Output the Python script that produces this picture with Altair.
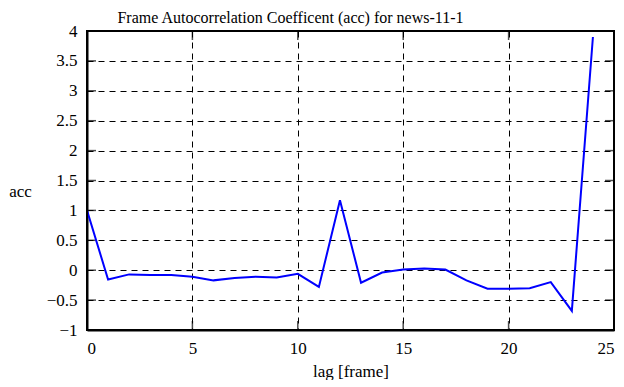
import altair as alt
import pandas as pd

lags = list(range(25))
acc = [1.0, -0.155, -0.07, -0.08, -0.08, -0.11, -0.17, -0.13, -0.11, -0.12,
       -0.06, -0.28, 1.17, -0.21, -0.04, 0.01, 0.03, 0.01, -0.17, -0.31,
       -0.31, -0.30, -0.20, -0.68, 3.9]
x_ticks = [0, 5, 10, 15, 20, 25]
y_ticks = [-1, -0.5, 0, 0.5, 1, 1.5, 2, 2.5, 3, 3.5, 4]

df = pd.DataFrame({"lag": lags, "acc": acc})
xt = pd.DataFrame({"v": x_ticks})
yt = pd.DataFrame({"v": y_ticks})
ft = pd.DataFrame({"k": [0]})

FONT = "Liberation Serif"
W, H = 527, 299
xscale = alt.Scale(domain=[0, 25], nice=False, zero=False)
yscale = alt.Scale(domain=[-1, 4], nice=False, zero=False)

xaxis = alt.Axis(values=x_ticks, title="lag [frame]",
                 labelPadding=10, titlePadding=7)
yaxis = alt.Axis(values=y_ticks, title="acc",
                 labelPadding=10, titleAngle=0, titleX=-67, titleY=160,
                 titleAlign="center", titleBaseline="middle")

line = alt.Chart(df).mark_line(color="#0000ff", strokeWidth=2, clip=True).encode(
    x=alt.X("lag:Q", scale=xscale, axis=xaxis),
    y=alt.Y("acc:Q", scale=yscale, axis=yaxis),
)

tick_bottom = alt.Chart(xt).mark_tick(color="black", size=9, thickness=1.5, yOffset=-4.5).encode(
    x=alt.X("v:Q", scale=xscale, axis=xaxis), y=alt.value(H))
tick_top = alt.Chart(xt).mark_tick(color="black", size=9, thickness=1.5, yOffset=4.5).encode(
    x=alt.X("v:Q", scale=xscale, axis=xaxis), y=alt.value(0))
tick_left = alt.Chart(yt).mark_tick(color="black", size=9, thickness=1.5, xOffset=4.5).encode(
    y=alt.Y("v:Q", scale=yscale, axis=yaxis), x=alt.value(0))
tick_right = alt.Chart(yt).mark_tick(color="black", size=9, thickness=1.5, xOffset=-4.5).encode(
    y=alt.Y("v:Q", scale=yscale, axis=yaxis), x=alt.value(W))

def edge(x, x2, y, y2):
    return alt.Chart(ft).mark_rule(color="black", strokeWidth=2).encode(
        x=alt.value(x), x2=alt.value(x2), y=alt.value(y), y2=alt.value(y2))

frame = [edge(0, W, 0, 0), edge(0, W, H, H), edge(0, 0, 0, H), edge(W, W, 0, H)]

chart = alt.layer(tick_bottom, tick_top, tick_left, tick_right, line, *frame).properties(
    width=W, height=H,
    autosize=alt.AutoSizeParams(type="none"),
    padding={"left": 79, "top": 23, "right": 2, "bottom": 50},
    background="white",
    title=alt.TitleParams("Frame Autocorrelation Coefficent (acc) for news-11-1",
                          font=FONT, fontSize=16, fontWeight="normal", color="black",
                          anchor="middle", dx=-60, offset=-4),
).configure(
    view=alt.ViewConfig(stroke="black", strokeWidth=2),
    axis=alt.AxisConfig(grid=True, gridDash=[6, 5], gridColor="black", gridOpacity=1,
                        gridWidth=1, ticks=False, domain=True, domainColor="black",
                        domainWidth=2,
                        labelFont=FONT, labelFontSize=17, labelColor="black",
                        labelOverlap=False, format="~g",
                        titleFont=FONT, titleFontSize=17, titleFontWeight="normal",
                        titleColor="black"),
)

chart.save("out.html", embed_options={"renderer": "svg", "actions": False})
